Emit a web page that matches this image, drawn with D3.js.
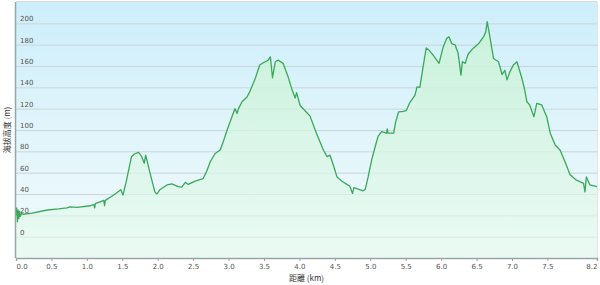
<!DOCTYPE html>
<html>
<head>
<meta charset="UTF-8">
<title>Elevation</title>
<style>
body, html {
	padding: 0;
	margin: 0;
	overflow: hidden;
	background: #ffffff;
	font-family: 'DejaVu Sans', sans-serif;
}
.grid line {
	stroke: #c9d6dc;
}
.xaxis text, .ylabels text {
	fill: #555555;
	font-size: 7px;
}
</style>
</head>
<body>
<div id="chart"></div>
<script src="https://cdn.jsdelivr.net/npm/d3@7"></script>
<script>
// distance (km) and elevation (m)
var dist = [0, 0.01, 0.02, 0.03, 0.04, 0.05, 0.06, 0.08, 0.1, 0.23, 0.44, 0.6, 0.72, 0.76, 0.86, 1.05, 1.1, 1.11, 1.12, 1.24, 1.25, 1.26, 1.38, 1.48, 1.51, 1.56, 1.63, 1.67, 1.73, 1.77, 1.81, 1.83, 1.89, 1.96, 1.99, 2.03, 2.13, 2.2, 2.29, 2.34, 2.39, 2.43, 2.53, 2.64, 2.69, 2.74, 2.81, 2.88, 2.93, 2.98, 3.04, 3.09, 3.12, 3.14, 3.19, 3.26, 3.3, 3.37, 3.44, 3.49, 3.56, 3.59, 3.62, 3.66, 3.7, 3.77, 3.84, 3.89, 3.94, 3.96, 4.01, 4.08, 4.15, 4.24, 4.34, 4.39, 4.43, 4.48, 4.53, 4.6, 4.67, 4.71, 4.75, 4.77, 4.81, 4.9, 4.93, 4.97, 5.02, 5.07, 5.11, 5.16, 5.23, 5.24, 5.25, 5.33, 5.36, 5.4, 5.47, 5.51, 5.56, 5.63, 5.66, 5.7, 5.75, 5.79, 5.84, 5.89, 5.97, 6.03, 6.08, 6.11, 6.15, 6.2, 6.24, 6.28, 6.3, 6.34, 6.38, 6.45, 6.53, 6.6, 6.63, 6.65, 6.68, 6.74, 6.81, 6.86, 6.9, 6.93, 6.97, 7.02, 7.07, 7.14, 7.18, 7.21, 7.25, 7.31, 7.35, 7.42, 7.49, 7.54, 7.61, 7.68, 7.75, 7.82, 7.91, 8.01, 8.03, 8.05, 8.1, 8.2];
var elev = [20, 27, 14, 25, 17, 24, 19, 22, 21, 22, 25, 26, 27, 28, 27.5, 29, 30, 27, 31, 34, 29, 34, 39, 44, 39, 53, 75, 77.5, 79, 75.5, 69, 76.5, 60, 42, 40, 44, 48.5, 49.5, 47, 46.5, 51, 49, 52, 54.5, 61, 70, 78, 81, 90, 100, 111, 120, 115.5, 120, 126.5, 131, 136, 147, 161, 163, 165.5, 168.5, 149, 164, 165.5, 162.5, 150, 139, 130, 135, 123, 118, 113, 97, 81, 75, 76.5, 67, 56, 52, 49, 47.5, 40.5, 46, 45, 43, 44.5, 56, 72, 84.5, 94, 98.5, 97, 101, 97, 97, 108, 117, 117.5, 118.5, 126, 132.5, 140.5, 140, 161, 177, 174, 170, 162.5, 178, 186, 187.5, 181, 179.5, 172, 151.5, 164, 162.5, 171, 176.5, 181, 187.5, 192, 201.5, 190.5, 167, 164, 152, 156, 147, 154.5, 161, 164, 148.5, 137.5, 126.5, 123.5, 112.5, 125, 123.5, 112.5, 97, 86, 81, 70, 58, 53, 50, 42, 56, 48.5, 47];

var yTicks = [0, 20, 40, 60, 80, 100, 120, 140, 160, 180, 200];
var xTicks = [0, 0.5, 1, 1.5, 2, 2.5, 3, 3.5, 4, 4.5, 5, 5.5, 6, 6.5, 7, 7.5, 8.2];

var width = 600;
var height = 285;
var plotLeft = 16, plotRight = 597, plotTop = 2, plotBottom = 258;

var x = d3.scaleLinear().domain([0, 8.2]).range([plotLeft, plotRight]);
var y = d3.scaleLinear().domain([-20, 220]).range([plotBottom, plotTop]);

var points = dist.map(function(d, i) {return [d, elev[i]]});

var svg = d3.select("#chart").append("svg").attr("width", width).attr("height", height);

var defs = svg.append("defs");
var bg = defs.append("linearGradient").attr("id", "bg").attr("x1", 0).attr("y1", 0).attr("x2", 0).attr("y2", 1);
bg.append("stop").attr("offset", "0%").attr("stop-color", "#cdeefa");
bg.append("stop").attr("offset", "100%").attr("stop-color", "#f3fbfc");

var fill = defs.append("linearGradient").attr("id", "fill").attr("gradientUnits", "userSpaceOnUse")
	.attr("x1", 0).attr("y1", y(200)).attr("x2", 0).attr("y2", plotBottom);
fill.append("stop").attr("offset", "0%").attr("stop-color", "#c9f2d6").attr("stop-opacity", 0.9);
fill.append("stop").attr("offset", "100%").attr("stop-color", "#e6faee").attr("stop-opacity", 0.6);

svg.append("rect").attr("x", plotLeft).attr("y", plotTop).attr("width", plotRight - plotLeft).attr("height", plotBottom - plotTop).attr("fill", "url(#bg)");

// grid lines
svg.append("g").attr("class", "grid")
	.attr("transform", "translate(" + plotLeft + ",0)")
	.call(d3.axisLeft(y).tickValues(yTicks).tickSize(-(plotRight - plotLeft)).tickFormat(""))
	.call(function(g) {g.select(".domain").remove()});

var area = d3.area().x(function(d) {return x(d[0])}).y0(plotBottom).y1(function(d) {return y(d[1])});
var line = d3.line().x(function(d) {return x(d[0])}).y(function(d) {return y(d[1])});

svg.append("path").datum(points).attr("d", area).attr("fill", "url(#fill)");
svg.append("path").datum(points).attr("d", line).attr("fill", "none").attr("stroke", "#3aa85a").attr("stroke-width", 1.3).attr("stroke-linejoin", "round");

// y labels sit inside the plot above each grid line
svg.append("g").attr("class", "ylabels").selectAll("text").data(yTicks).enter().append("text")
	.attr("x", plotLeft + 4).attr("y", function(d) {return y(d) - 2}).text(function(d) {return d});

// frame
svg.append("line").attr("x1", plotLeft).attr("x2", plotRight).attr("y1", plotTop - 0.5).attr("y2", plotTop - 0.5).attr("stroke", "#d6dde0");
svg.append("line").attr("x1", plotRight + 0.5).attr("x2", plotRight + 0.5).attr("y1", plotTop).attr("y2", plotBottom).attr("stroke", "#e2e8ea");
svg.append("line").attr("x1", plotLeft - 0.5).attr("x2", plotLeft - 0.5).attr("y1", plotTop).attr("y2", plotBottom).attr("stroke", "#9aa3a6").attr("stroke-width", 1.5);

var xAxis = svg.append("g").attr("class", "xaxis")
	.attr("transform", "translate(0," + plotBottom + ")")
	.call(d3.axisBottom(x).tickValues(xTicks).tickSize(3).tickPadding(3).tickFormat(d3.format(".1f")));
xAxis.select(".domain").attr("stroke", "#9aa3a6").attr("stroke-width", 1.5);
xAxis.selectAll(".tick line").attr("stroke", "#9aa3a6");
xAxis.selectAll(".tick text").attr("font-family", "'DejaVu Sans', sans-serif").attr("font-size", 7).attr("fill", "#555")
	.attr("text-anchor", function(d) {return d == 0 ? "start" : (d == 8.2 ? "end" : "middle")});

svg.append("text").attr("x", (plotLeft + plotRight) / 2).attr("y", 281).attr("text-anchor", "middle")
	.attr("font-family", "'Noto Sans CJK JP', sans-serif").attr("font-size", 8).attr("fill", "#333")
	.text("距離 (km)");

svg.append("text").attr("transform", "translate(10," + ((plotTop + plotBottom) / 2) + ") rotate(-90)").attr("text-anchor", "middle")
	.attr("font-family", "'Noto Sans CJK JP', sans-serif").attr("font-size", 8).attr("fill", "#333")
	.text("海拔高度 (m)");
</script>
</body>
</html>
